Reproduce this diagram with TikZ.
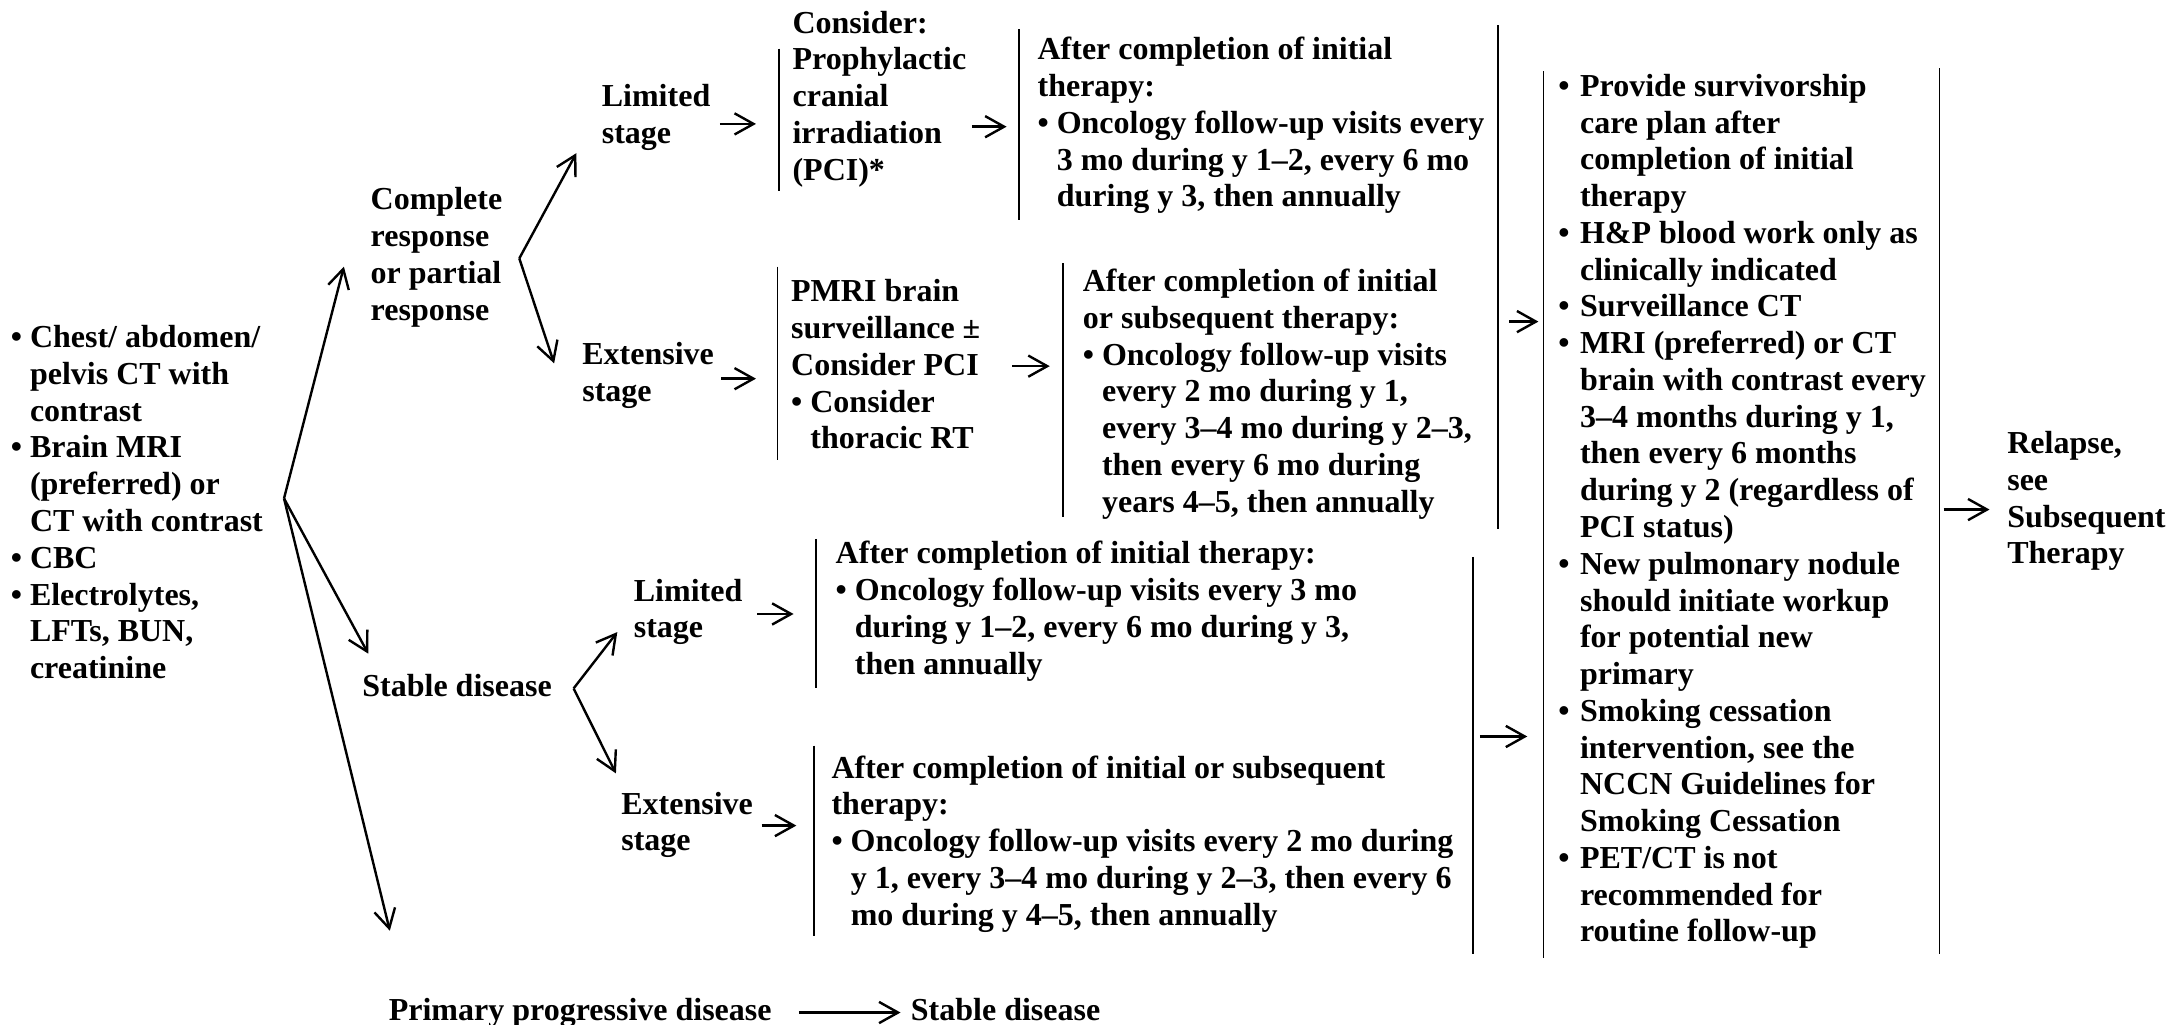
\documentclass[tikz,border=0pt]{standalone}
\usepackage{fontspec}
\setmainfont{Liberation Serif}
\usetikzlibrary{arrows.meta}
% bullet with hanging indent
\newcommand{\bl}{\makebox[0.6em][l]{\textbullet}}
\newcommand{\ind}{\hspace*{0.6em}}
\newcommand{\blw}{\makebox[0.68em][l]{\textbullet}}
\newcommand{\indw}{\hspace*{0.68em}}
\begin{document}
\begin{tikzpicture}[x=0.69614pt,y=-0.69614pt,
  txt/.style={anchor=north west,align=left,inner sep=0pt,
    font=\fontsize{16}{18.38}\selectfont\bfseries,execute at begin node=\strut},
  arr/.style={-{Straight Barb[length=9.5pt,width=10.6pt]},line width=1.2pt},
  brk/.style={line width=0.75pt}]
\useasboundingbox (0,0) rectangle (1568,736);

% ---- text blocks ----
\node[txt] (tests) at (7.5,233.5) {\bl Chest/ abdomen/\\\ind pelvis CT with\\\ind contrast\\\bl Brain MRI\\\ind (preferred) or\\\ind CT with contrast\\\bl CBC\\\bl Electrolytes,\\\ind LFTs, BUN,\\\ind creatinine};
\node[txt] (complete) at (266,134.5) {Complete\\response\\or partial\\response};
\node[txt] (limA) at (432,60.5) {Limited\\stage};
\node[txt] (pci) at (569,7.5) {Consider:\\Prophylactic\\cranial\\irradiation\\(PCI)*};
\node[txt] (fuA) at (745,26.5) {After completion of initial\\therapy:\\\bl Oncology follow-up visits every\\\ind 3 mo during y 1–2, every 6 mo\\\ind during y 3, then annually};
\node[txt] (extA) at (418,245.5) {Extensive\\stage};
\node[txt] (mri) at (568,200.5) {PMRI brain\\surveillance ±\\Consider PCI\\\bl Consider\\\ind thoracic RT};
\node[txt] (fuB) at (777.5,193) {After completion of initial\\or subsequent therapy:\\\bl Oncology follow-up visits\\\ind every 2 mo during y 1,\\\ind every 3–4 mo during y 2–3,\\\ind then every 6 mo during\\\ind years 4–5, then annually};
\node[txt] (stable) at (260,481.5) {Stable disease};
\node[txt] (limB) at (455,415.5) {Limited\\stage};
\node[txt] (fuC) at (600,388.5) {After completion of initial therapy:\\\bl Oncology follow-up visits every 3 mo\\\ind during y 1–2, every 6 mo during y 3,\\\ind then annually};
\node[txt] (extB) at (446,568.5) {Extensive\\stage};
\node[txt] (fuD) at (597,542.5) {After completion of initial or subsequent\\therapy:\\\bl Oncology follow-up visits every 2 mo during\\\ind y 1, every 3–4 mo during y 2–3, then every 6\\\ind mo during y 4–5, then annually};
\node[txt] (surv) at (1119,53) {\blw Provide survivorship\\\indw care plan after\\\indw completion of initial\\\indw therapy\\\blw H\&P blood work only as\\\indw clinically indicated\\\blw Surveillance CT\\\blw MRI (preferred) or CT\\\indw brain with contrast every\\\indw 3–4 months during y 1,\\\indw then every 6 months\\\indw during y 2 (regardless of\\\indw PCI status)\\\blw New pulmonary nodule\\\indw should initiate workup\\\indw for potential new\\\indw primary\\\blw Smoking cessation\\\indw intervention, see the\\\indw NCCN Guidelines for\\\indw Smoking Cessation\\\blw PET/CT is not\\\indw recommended for\\\indw routine follow-up};
\node[txt] (relapse) at (1441.5,309.5) {Relapse,\\see\\Subsequent\\Therapy};
\node[txt] (prim) at (279,714.5) {Primary progressive disease};
\node[txt] (stable2) at (654,714.5) {Stable disease};

% ---- bracket lines ----
\draw[brk] (559.5,35) -- (559.5,137);
\draw[brk] (731.8,21) -- (731.8,158);
\draw[brk] (558.3,191.5) -- (558.3,330.5);
\draw[brk] (763.4,189) -- (763.4,371);
\draw[brk] (1076,18) -- (1076,380);
\draw[brk] (586,387) -- (586,494);
\draw[brk] (584.5,535.5) -- (584.5,672);
\draw[brk] (1058,400) -- (1058,685);
\draw[brk] (1108.5,51) -- (1108.5,688);
\draw[brk] (1393,49) -- (1393,685);

% ---- branching connectors ----
\coordinate (f1) at (204,358);
\coordinate (f1up) at (247,191.5);
\coordinate (f1mid) at (264.5,469.5);
\coordinate (f1low) at (280,668.5);
\coordinate (f2) at (373,185.6);
\coordinate (f2up) at (414,110);
\coordinate (f2dn) at (398,261);
\coordinate (f3) at (412,494.5);
\coordinate (f3up) at (443.4,454);
\coordinate (f3dn) at (442.4,555.5);
\draw[arr] (f1) -- (f1up);
\draw[arr] (f1) -- (f1mid);
\draw[arr] (f1) -- (f1low);
\draw[arr] (f2) -- (f2up);
\draw[arr] (f2) -- (f2dn);
\draw[arr] (f3) -- (f3up);
\draw[arr] (f3) -- (f3dn);

% ---- short step arrows ----
\coordinate (a1s) at (517,89);   \coordinate (a1e) at (543,89);
\coordinate (a2s) at (698,91);   \coordinate (a2e) at (723,91);
\coordinate (a3s) at (518,272);  \coordinate (a3e) at (543,272);
\coordinate (a4s) at (727,263);  \coordinate (a4e) at (754,263);
\coordinate (a5s) at (1084,231); \coordinate (a5e) at (1105,231);
\coordinate (a6s) at (544,441);  \coordinate (a6e) at (570,441);
\coordinate (a7s) at (547,593);  \coordinate (a7e) at (572,593);
\coordinate (a8s) at (1063,529); \coordinate (a8e) at (1097,529);
\coordinate (a9s) at (1396,366); \coordinate (a9e) at (1429,366);
\draw[arr] (a1s) -- (a1e);
\draw[arr] (a2s) -- (a2e);
\draw[arr] (a3s) -- (a3e);
\draw[arr] (a4s) -- (a4e);
\draw[arr] (a5s) -- (a5e);
\draw[arr] (a6s) -- (a6e);
\draw[arr] (a7s) -- (a7e);
\draw[arr] (a8s) -- (a8e);
\draw[arr] (a9s) -- (a9e);
\draw[arr] ([xshift=13.5pt,yshift=0.5pt]prim.east) -- ([xshift=-5pt,yshift=0.5pt]stable2.west);
\end{tikzpicture}
\end{document}
